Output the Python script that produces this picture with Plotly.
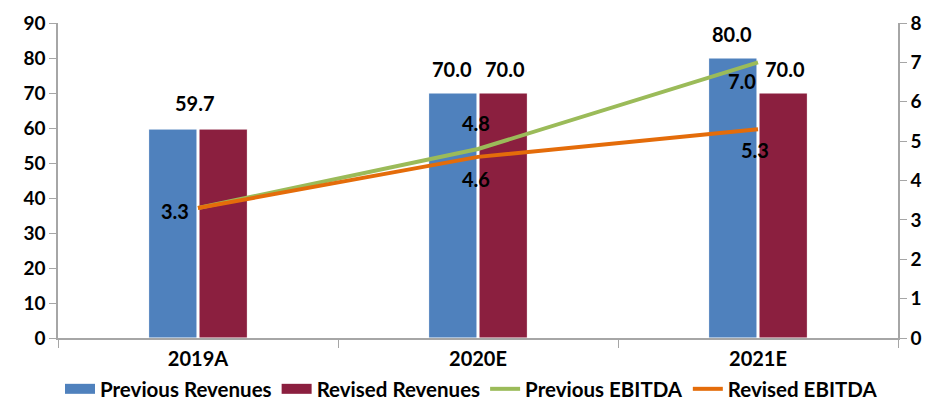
import plotly.graph_objects as go

categories = ["2019A", "2020E", "2021E"]
prev_rev = [59.7, 70.0, 80.0]
rev_rev = [59.7, 70.0, 70.0]
prev_ebitda = [3.3, 4.8, 7.0]
rev_ebitda = [3.3, 4.6, 5.3]

FONT = "Lato"
blue = "#4F81BD"
red = "#8B1F3F"
green = "#9BBB59"
orange = "#E46C0A"

fig = go.Figure()
fig.add_bar(x=categories, y=prev_rev, name="Previous Revenues", showlegend=False,
            marker=dict(color=blue, line=dict(color="white", width=1)))
fig.add_bar(x=categories, y=rev_rev, name="Revised Revenues", showlegend=False,
            marker=dict(color=red, line=dict(color="white", width=1)))
# legend entries for the bars drawn as wide rectangles
fig.add_scatter(x=[None], y=[None], name="Previous Revenues", mode="lines", line=dict(color=blue, width=15))
fig.add_scatter(x=[None], y=[None], name="Revised Revenues", mode="lines", line=dict(color=red, width=15))
fig.add_scatter(x=categories, y=prev_ebitda, name="Previous EBITDA", mode="lines", line=dict(color=green, width=4), yaxis="y2")
fig.add_scatter(x=categories, y=rev_ebitda, name="Revised EBITDA", mode="lines", line=dict(color=orange, width=4), yaxis="y2")

lab = dict(size=20, color="black", family=FONT, weight="bold")
ann = []
ann.append(dict(x=categories[0], y=prev_rev[0], text=f"{prev_rev[0]:.1f}", yanchor="bottom", yshift=12, xshift=-3))
for i in (1, 2):
    ann.append(dict(x=categories[i], y=prev_rev[i], text=f"{prev_rev[i]:.1f}", yanchor="bottom", yshift=10, xshift=-26))
    ann.append(dict(x=categories[i], y=rev_rev[i], text=f"{rev_rev[i]:.1f}", yanchor="bottom", yshift=10, xshift=27))
ann.append(dict(x=categories[0], y=prev_ebitda[0], yref="y2", text=f"{prev_ebitda[0]:.1f}", xanchor="right", xshift=-7, yshift=-3))
ann.append(dict(x=categories[1], y=prev_ebitda[1], yref="y2", text=f"{prev_ebitda[1]:.1f}", yanchor="bottom", yshift=12, xshift=-2))
ann.append(dict(x=categories[1], y=rev_ebitda[1], yref="y2", text=f"{rev_ebitda[1]:.1f}", yanchor="top", yshift=-8, xshift=-2))
ann.append(dict(x=categories[2], y=prev_ebitda[2], yref="y2", text=f"{prev_ebitda[2]:.1f}", yanchor="top", xanchor="right", yshift=-5, xshift=0))
ann.append(dict(x=categories[2], y=rev_ebitda[2], yref="y2", text=f"{rev_ebitda[2]:.1f}", yanchor="top", yshift=-7, xshift=-3))
ann = [dict(a, showarrow=False, font=lab) for a in ann]

axis_col = "#A6A6A6"
tick_font = dict(size=19, family=FONT, weight="bold", color="black")
fig.update_layout(
    width=943, height=409,
    margin=dict(l=58, r=45, t=23, b=71, autoexpand=False),
    plot_bgcolor="white", paper_bgcolor="white",
    barmode="group", bargap=0.64, bargroupgap=0.04,
    font=dict(family=FONT, size=17, color="black"),
    xaxis=dict(showline=True, linecolor=axis_col, linewidth=1.5, ticks="outside", tickson="boundaries",
               ticklen=8, tickcolor=axis_col, showgrid=False, tickfont=dict(tick_font, size=20),
               ticklabelstandoff=2),
    yaxis=dict(range=[0, 90], dtick=10, showline=True, linecolor=axis_col, linewidth=1.5, ticks="outside",
               ticklen=7, tickcolor=axis_col, showgrid=False, zeroline=False, tickfont=tick_font),
    yaxis2=dict(range=[0, 8], dtick=1, overlaying="y", side="right", showline=True, linecolor=axis_col, linewidth=1.5,
                ticks="outside", ticklen=7, tickcolor=axis_col, showgrid=False, zeroline=False, tickfont=tick_font),
    legend=dict(orientation="h", x=0.5, xref="container", xanchor="center", y=0.0, yref="container", yanchor="bottom",
                font=dict(size=20.5, family=FONT, weight="bold", color="black"), tracegroupgap=0, itemwidth=30,
                bgcolor="rgba(0,0,0,0)"),
    annotations=ann,
    showlegend=True,
)
fig.write_html("out.html")
